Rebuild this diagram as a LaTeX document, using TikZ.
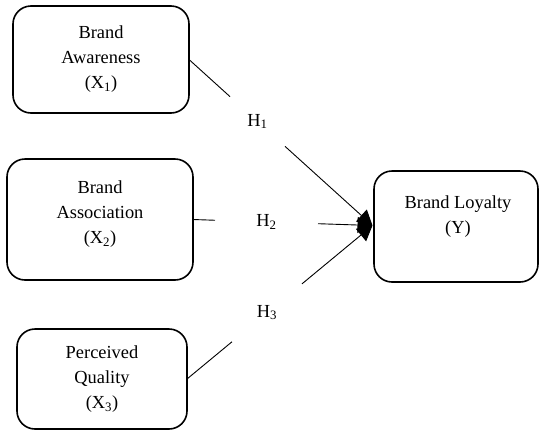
\documentclass[tikz,border=0pt]{standalone}
\usepackage{fontspec}
\setmainfont{Liberation Serif}
\usetikzlibrary{arrows.meta}
\begin{document}
\begin{tikzpicture}[x=1pt,y=-1pt,
  box/.style={draw, line width=1.6pt, rounded corners=18pt, inner sep=0pt, outer sep=0pt},
  boxtext/.style={align=center, inner sep=0pt, font=\fontsize{18.4}{25}\selectfont},
  gap/.style={inner sep=0pt, outer sep=0pt, font=\fontsize{18.4}{22}\selectfont},
  conn/.style={line width=0.9pt},
  arr/.style={line width=0.9pt, -{Triangle[length=15pt,width=16pt]}}]
\useasboundingbox (0,0) rectangle (540,429);
% boxes
\node[box, minimum width=176pt, minimum height=107pt] (b1) at (101,59.5) {};
\node[box, minimum width=186pt, minimum height=121pt] (b2) at (100,219.5) {};
\node[box, minimum width=170pt, minimum height=100pt] (b3) at (102,379) {};
\node[box, minimum width=164pt, minimum height=111pt] (y) at (456,226.5) {};
% box texts
\node[boxtext] (t1) at (101,59) {Brand\\Awareness\\(X\textsubscript{1})};
\node[boxtext] (t2) at (100,214) {Brand\\Association\\(X\textsubscript{2})};
\node[boxtext] (t3) at (102,379) {Perceived\\Quality\\(X\textsubscript{3})};
\node[boxtext] (ty) at (458,217) {Brand Loyalty\\(Y)};
% hypothesis labels (gaps in the connectors)
\node[gap, minimum width=55pt, minimum height=49.8pt] (h1) at (257.5,121.5) {\raisebox{1pt}{H\textsubscript{1}}};
\node[gap, minimum width=103pt, minimum height=16pt] (h2) at (266.5,222) {H\textsubscript{2}};
\node[gap, minimum width=70pt, minimum height=58pt] (h3) at (267,312.8) {\raisebox{3pt}{H\textsubscript{3}}};
\coordinate (tip) at (372.5,225.5);
% connectors
\draw[conn] (b1.east) -- (h1);
\draw[arr] (h1) -- (tip);
\draw[conn] (b2.east) -- (h2);
\draw[arr] (h2) -- (tip);
\draw[conn] (b3.east) -- (h3);
\draw[arr] (h3) -- (tip);
\end{tikzpicture}
\end{document}
